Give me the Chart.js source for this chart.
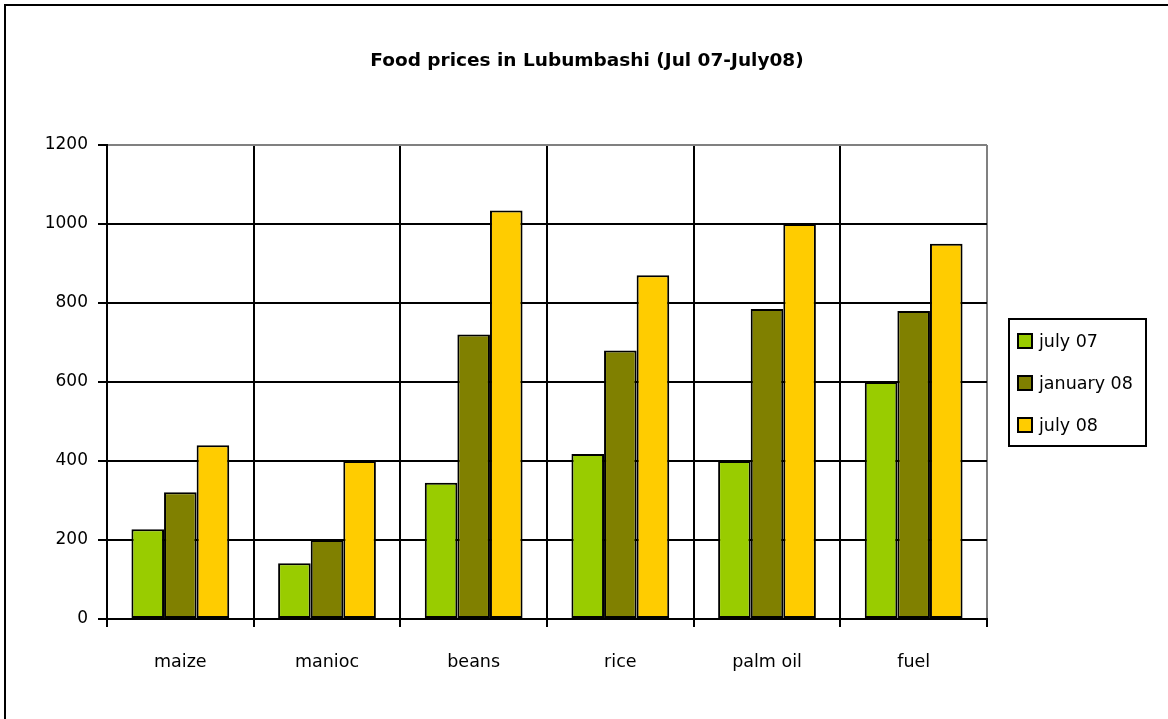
<!DOCTYPE html>
<html>
<head>
<meta charset="utf-8">
<script src="https://cdn.jsdelivr.net/npm/chart.js@4/dist/chart.umd.min.js"></script>
<style>
  html, body { margin: 0; padding: 0; background: #fff; overflow: hidden; width: 1168px; height: 719px; }
  #frame { position: absolute; left: 4px; top: 4px; width: 1200px; height: 800px; border: 2px solid #000; box-sizing: border-box; }
  #c { position: absolute; left: 0; top: 0; }
</style>
</head>
<body>
<div id="frame"></div>
<canvas id="c" width="1168" height="719"></canvas>
<script>
const title = 'Food prices in Lubumbashi (Jul 07-July08)';
const categories = ['maize', 'manioc', 'beans', 'rice', 'palm oil', 'fuel'];
const seriesNames = ['july 07', 'january 08', 'july 08'];
const july07 = [227, 141, 345, 418, 400, 600];
const january08 = [321, 200, 720, 680, 785, 780];
const july08 = [440, 400, 1034, 870, 1000, 950];
const seriesColors = ['#99CC00', '#808000', '#FFCC00'];
const yTicks = [0, 200, 400, 600, 800, 1000, 1200];

const FONT = "'DejaVu Sans', sans-serif";
const values = [july07, january08, july08];

const titlePlugin = {
  id: 'titlePlugin',
  afterDraw(chart) {
    const ctx = chart.ctx;
    ctx.save();
    ctx.fillStyle = '#000';
    ctx.font = 'bold 18.5px ' + FONT;
    ctx.textAlign = 'center';
    ctx.textBaseline = 'middle';
    ctx.fillText(title, 587, 61);
    ctx.restore();
  }
};

const legendPlugin = {
  id: 'boxLegend',
  afterDraw(chart) {
    const ctx = chart.ctx;
    const x0 = 1009, y0 = 319, w = 137, h = 127;
    ctx.save();
    ctx.fillStyle = '#fff';
    ctx.fillRect(x0, y0, w, h);
    ctx.strokeStyle = '#000';
    ctx.lineWidth = 2;
    ctx.strokeRect(x0, y0, w, h);
    ctx.font = '17.5px ' + FONT;
    ctx.textBaseline = 'middle';
    ctx.textAlign = 'left';
    chart.data.datasets.forEach((ds, i) => {
      const cy = 341 + i * 42;
      ctx.fillStyle = ds.backgroundColor;
      ctx.fillRect(1018, cy - 7, 14, 14);
      ctx.strokeStyle = '#000';
      ctx.lineWidth = 2;
      ctx.strokeRect(1018, cy - 7, 14, 14);
      ctx.fillStyle = '#000';
      ctx.fillText(ds.label, 1039, cy + 1);
    });
    ctx.restore();
  }
};

new Chart(document.getElementById('c'), {
  type: 'bar',
  data: {
    labels: categories,
    datasets: seriesNames.map((name, i) => ({
      label: name,
      data: values[i],
      backgroundColor: seriesColors[i],
      borderColor: '#000',
      borderWidth: 2,
      borderSkipped: false,
      categoryPercentage: 2 / 3,
      barPercentage: 1
    }))
  },
  options: {
    responsive: false,
    animation: false,
    devicePixelRatio: 1,
    layout: { padding: { top: 145, right: 181, left: 0, bottom: 0 } },
    plugins: {
      legend: { display: false },
      title: { display: false },
      tooltip: { enabled: false }
    },
    scales: {
      x: {
        offset: true,
        grid: {
          offset: true,
          color: (ctx) => (ctx.type !== 'tick' || ctx.index === categories.length) ? '#808080' : '#000',
          lineWidth: 2,
          tickColor: '#000',
          tickLength: 8,
          drawTicks: true
        },
        border: { color: '#000', width: 2 },
        ticks: { color: '#000', font: { family: FONT, size: 17.5 }, padding: 25, maxRotation: 0 },
        afterFit: (s) => { s.height = 100; }
      },
      y: {
        min: 0,
        max: 1200,
        afterBuildTicks: (s) => { s.ticks = yTicks.map(v => ({ value: v })); },
        grid: {
          color: (ctx) => (ctx.tick && ctx.tick.value === yTicks[yTicks.length - 1]) ? '#808080' : '#000',
          lineWidth: 2,
          tickColor: '#000',
          tickLength: 9
        },
        border: { color: '#000', width: 2 },
        ticks: { color: '#000', font: { family: FONT, size: 17 }, padding: 10, callback: (v) => String(v) },
        afterFit: (s) => { s.width = 107; }
      }
    }
  },
  plugins: [titlePlugin, legendPlugin]
});
</script>
</body>
</html>
